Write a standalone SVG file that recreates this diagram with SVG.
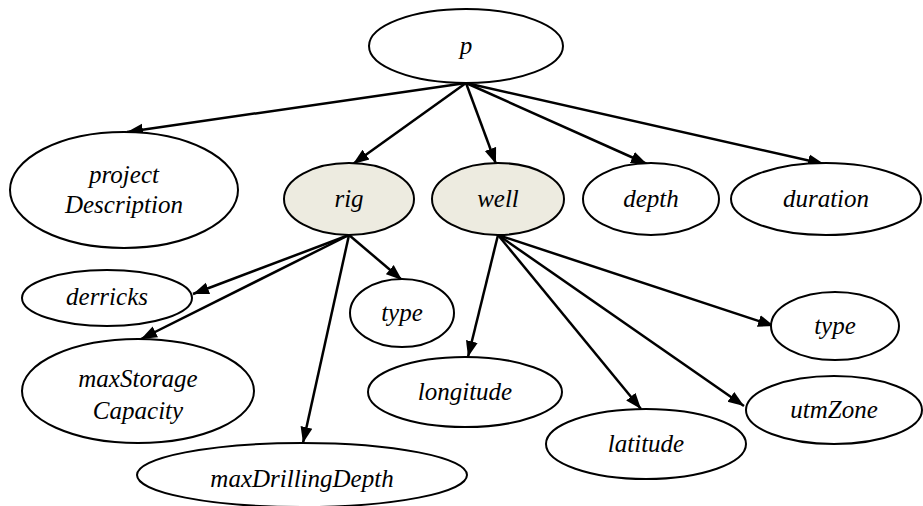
<svg xmlns="http://www.w3.org/2000/svg" width="923" height="506" viewBox="0 0 923 506">
<defs>
<marker id="ah" markerUnits="userSpaceOnUse" markerWidth="18" markerHeight="14" refX="16" refY="6" orient="auto" viewBox="0 0 18 12">
<path d="M0,0 L16,6 L0,12 Z" fill="#000"/>
</marker>
<style>
.n{fill:#fff;stroke:#000;stroke-width:2}
.h{fill:#EDEBE0;stroke:#000;stroke-width:2}
.e{stroke:#000;stroke-width:2.5;fill:none;marker-end:url(#ah)}
</style>
</defs>
<rect width="923" height="506" fill="#fff"/>
<g id="edges">
<line class="e" x1="466" y1="83" x2="127" y2="132"/>
<line class="e" x1="466" y1="83" x2="353" y2="164"/>
<line class="e" x1="466" y1="83" x2="496" y2="164"/>
<line class="e" x1="466" y1="83" x2="647" y2="164"/>
<line class="e" x1="466" y1="83" x2="824" y2="164"/>
<line class="e" x1="349" y1="235" x2="193" y2="294"/>
<line class="e" x1="349" y1="235" x2="141" y2="339"/>
<line class="e" x1="349" y1="235" x2="303" y2="443"/>
<line class="e" x1="349" y1="235" x2="402" y2="280"/>
<line class="e" x1="498" y1="235" x2="468" y2="357"/>
<line class="e" x1="498" y1="235" x2="641" y2="409"/>
<line class="e" x1="498" y1="235" x2="744" y2="406"/>
<line class="e" x1="498" y1="235" x2="774" y2="326"/>
</g>
<g font-family="Liberation Serif, DejaVu Serif, serif" font-style="italic" font-size="25" text-anchor="middle" fill="#000">
<g id="p"><ellipse class="n" cx="466" cy="46" rx="97" ry="37"/><text x="466" y="54">p</text></g>
<g id="projectDescription"><ellipse class="n" cx="124" cy="190" rx="114" ry="58"/><text x="124" y="183">project</text><text x="124" y="213">Description</text></g>
<g id="rig"><ellipse class="h" cx="349" cy="199" rx="65" ry="36"/><text x="349" y="207">rig</text></g>
<g id="well"><ellipse class="h" cx="498" cy="199" rx="66" ry="36"/><text x="498" y="207">well</text></g>
<g id="depth"><ellipse class="n" cx="651" cy="199" rx="68" ry="36"/><text x="651" y="207">depth</text></g>
<g id="duration"><ellipse class="n" cx="826" cy="199" rx="95" ry="36"/><text x="826" y="207">duration</text></g>
<g id="derricks"><ellipse class="n" cx="107" cy="298" rx="85" ry="28"/><text x="107" y="305">derricks</text></g>
<g id="rigType"><ellipse class="n" cx="402" cy="313" rx="52" ry="34"/><text x="402" y="321">type</text></g>
<g id="maxStorageCapacity"><ellipse class="n" cx="138" cy="391" rx="116" ry="52"/><text x="138" y="387">maxStorage</text><text x="138" y="419">Capacity</text></g>
<g id="maxDrillingDepth"><ellipse class="n" cx="302" cy="475" rx="165" ry="32"/><text x="302" y="487">maxDrillingDepth</text></g>
<g id="longitude"><ellipse class="n" cx="465" cy="392" rx="97" ry="35"/><text x="465" y="400">longitude</text></g>
<g id="latitude"><ellipse class="n" cx="646" cy="444" rx="100" ry="35"/><text x="646" y="452">latitude</text></g>
<g id="utmZone"><ellipse class="n" cx="834" cy="410" rx="88" ry="34"/><text x="834" y="418">utmZone</text></g>
<g id="wellType"><ellipse class="n" cx="835" cy="326" rx="64" ry="34"/><text x="835" y="334">type</text></g>
</g>
</svg>
